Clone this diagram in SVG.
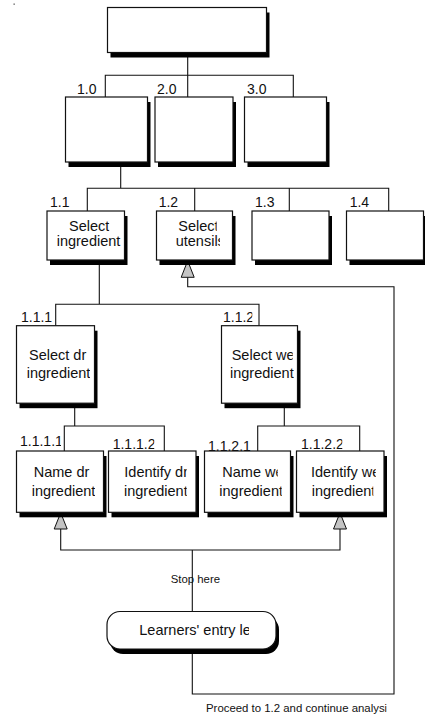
<svg xmlns="http://www.w3.org/2000/svg" width="425" height="715" viewBox="0 0 425 715">
  <style>
    .box { fill: #fff; stroke: #111; stroke-width: 1.2; }
    .shadow { fill: #000; }
    .wire { fill: none; stroke: #111; stroke-width: 1.1; }
    .head { fill: #c4c4c4; stroke: #111; stroke-width: 1; }
    .num { font-family: "Liberation Sans", Arial, sans-serif; font-size: 14px; fill: #111; }
    .txt { font-family: "Liberation Sans", Arial, sans-serif; font-size: 14.5px; fill: #111; }
    .note { font-family: "Liberation Sans", Arial, sans-serif; font-size: 11.4px; fill: #111; }
  </style>
  <defs>
    <!-- per-line clipping of the text frames -->
    <clipPath id="c11a"><rect x="40" y="200" width="69.5" height="60"/></clipPath>
    <clipPath id="c11b"><rect x="40" y="200" width="81.7" height="60"/></clipPath>
    <clipPath id="c12a"><rect x="150" y="200" width="66.7" height="60"/></clipPath>
    <clipPath id="c12b"><rect x="150" y="200" width="70" height="60"/></clipPath>
    <clipPath id="c111a"><rect x="10" y="330" width="77.3" height="70"/></clipPath>
    <clipPath id="c111b"><rect x="10" y="330" width="80" height="70"/></clipPath>
    <clipPath id="c112a"><rect x="220" y="330" width="72.7" height="70"/></clipPath>
    <clipPath id="c112b"><rect x="220" y="330" width="74" height="70"/></clipPath>
    <clipPath id="c1111a"><rect x="10" y="455" width="80.7" height="55"/></clipPath>
    <clipPath id="c1111b"><rect x="10" y="455" width="85" height="55"/></clipPath>
    <clipPath id="c1112a"><rect x="110" y="455" width="76.7" height="55"/></clipPath>
    <clipPath id="c1112b"><rect x="110" y="455" width="76.7" height="55"/></clipPath>
    <clipPath id="c1121a"><rect x="205" y="455" width="72.7" height="55"/></clipPath>
    <clipPath id="c1121b"><rect x="205" y="455" width="76.7" height="55"/></clipPath>
    <clipPath id="c1122a"><rect x="300" y="455" width="75.7" height="55"/></clipPath>
    <clipPath id="c1122b"><rect x="300" y="455" width="73.3" height="55"/></clipPath>
    <clipPath id="cl112"><rect x="215" y="305" width="37.3" height="20"/></clipPath>
    <clipPath id="cl1111"><rect x="15" y="430" width="46" height="20"/></clipPath>
    <clipPath id="cl1112"><rect x="105" y="430" width="49.3" height="20"/></clipPath>
    <clipPath id="cl1121"><rect x="200" y="430" width="50.7" height="22"/></clipPath>
    <clipPath id="cl1122"><rect x="295" y="430" width="47.3" height="20"/></clipPath>
    <clipPath id="centry"><rect x="130" y="615" width="119" height="30"/></clipPath>
    <clipPath id="cproceed"><rect x="200" y="698" width="186.7" height="17"/></clipPath>
  </defs>

  <rect x="13.5" y="3.5" width="1.3" height="1.3" fill="#555"/>

  <!-- connectors -->
  <g id="connectors">
    <path class="wire" d="M187.7 52.7 V97 M105.3 97 V75.3 H293.3 V97"/>
    <path class="wire" d="M120.7 162 V188.3 M87.3 211 V188.3 H388.7 V211 M194.7 188.3 V211 M289.3 188.3 V211"/>
    <path class="wire" d="M99.3 260 V304.3 M55.7 325.7 V304.3 H259 V325.7"/>
    <path class="wire" d="M74.7 403.3 V426 M64.3 451 V426 H164.3 V451"/>
    <path class="wire" d="M284.3 403.3 V426 M257.7 451 V426 H359.7 V451"/>
    <path class="wire" d="M60.7 529 V550 H340 V529 M192.3 550 V611.5"/>
    <path class="wire" d="M192.3 649 V694 H394 V286.7 H187.7 V277.3"/>
    <polygon class="head" points="60.7,512.8 54.2,529 67.2,529"/>
    <polygon class="head" points="340,512.8 333.5,529 346.5,529"/>
    <polygon class="head" points="187.7,260.8 181.2,277.3 194.2,277.3"/>
    <text class="note" x="170.7" y="583">Stop here</text>
    <text class="note" x="206" y="712.3" clip-path="url(#cproceed)">Proceed to 1.2 and continue analysis</text>
  </g>

  <!-- task tree -->
  <g id="n0">
    <rect class="shadow" x="110.5" y="12.5" width="159" height="45"/>
    <rect class="box" x="107.5" y="7.5" width="159" height="45"/>
  </g>

  <g id="n1-0">
    <rect class="shadow" x="68.5" y="102" width="82" height="65"/>
    <rect class="box" x="65.5" y="97" width="82" height="65"/>
    <text class="num" x="77" y="94.3">1.0</text>
  </g>
  <g id="n2-0">
    <rect class="shadow" x="158" y="102" width="78" height="65"/>
    <rect class="box" x="155" y="97" width="78" height="65"/>
    <text class="num" x="157" y="94.3">2.0</text>
  </g>
  <g id="n3-0">
    <rect class="shadow" x="247.5" y="102" width="82" height="65"/>
    <rect class="box" x="244.5" y="97" width="82" height="65"/>
    <text class="num" x="247" y="94.3">3.0</text>
  </g>

  <g id="n1-1">
    <rect class="shadow" x="50" y="216" width="77.5" height="49"/>
    <rect class="box" x="47" y="211" width="77.5" height="49"/>
    <text class="num" x="50" y="207">1.1</text>
    <text class="txt" x="69" y="231" clip-path="url(#c11a)">Select</text>
    <text class="txt" x="56.7" y="245.5" clip-path="url(#c11b)">ingredient</text>
  </g>
  <g id="n1-2">
    <rect class="shadow" x="159.5" y="216" width="76" height="49"/>
    <rect class="box" x="156.5" y="211" width="76" height="49"/>
    <text class="num" x="158.7" y="207">1.2</text>
    <text class="txt" x="178.3" y="231" clip-path="url(#c12a)">Select</text>
    <text class="txt" x="175.7" y="245.5" clip-path="url(#c12b)">utensils</text>
  </g>
  <g id="n1-3">
    <rect class="shadow" x="255" y="216" width="77" height="49"/>
    <rect class="box" x="252" y="211" width="77" height="49"/>
    <text class="num" x="255" y="207">1.3</text>
  </g>
  <g id="n1-4">
    <rect class="shadow" x="349.5" y="216" width="77" height="49"/>
    <rect class="box" x="346.5" y="211" width="77" height="49"/>
    <text class="num" x="349.7" y="207">1.4</text>
  </g>

  <g id="n1-1-1">
    <rect class="shadow" x="19.5" y="330.7" width="78" height="77.5"/>
    <rect class="box" x="16.5" y="325.7" width="78" height="77.5"/>
    <text class="num" x="21" y="322.3">1.1.1</text>
    <text class="txt" x="29" y="360" clip-path="url(#c111a)">Select dr</text>
    <text class="txt" x="26.7" y="378" clip-path="url(#c111b)">ingredient</text>
  </g>
  <g id="n1-1-2">
    <rect class="shadow" x="224.5" y="330.7" width="76" height="77.5"/>
    <rect class="box" x="221.5" y="325.7" width="76" height="77.5"/>
    <text class="num" x="223" y="322.3" clip-path="url(#cl112)">1.1.2</text>
    <text class="txt" x="231.7" y="360" clip-path="url(#c112a)">Select we</text>
    <text class="txt" x="230" y="378" clip-path="url(#c112b)">ingredient</text>
  </g>

  <g id="n1-1-1-1">
    <rect class="shadow" x="19.5" y="456" width="87" height="61.3"/>
    <rect class="box" x="16.5" y="451" width="87" height="61.3"/>
    <text class="num" x="20" y="446" clip-path="url(#cl1111)">1.1.1.1</text>
    <text class="txt" x="33.7" y="476.5" clip-path="url(#c1111a)">Name dr</text>
    <text class="txt" x="31.7" y="496" clip-path="url(#c1111b)">ingredient</text>
  </g>
  <g id="n1-1-1-2">
    <rect class="shadow" x="111.5" y="456" width="87.5" height="61.3"/>
    <rect class="box" x="108.5" y="451" width="87.5" height="61.3"/>
    <text class="num" x="112.7" y="449.3" clip-path="url(#cl1112)">1.1.1.2</text>
    <text class="txt" x="124.3" y="476.5" clip-path="url(#c1112a)">Identify dr</text>
    <text class="txt" x="124" y="496" clip-path="url(#c1112b)">ingredient</text>
  </g>
  <g id="n1-1-2-1">
    <rect class="shadow" x="207.5" y="456" width="86" height="61.3"/>
    <rect class="box" x="204.5" y="451" width="86" height="61.3"/>
    <text class="num" x="208" y="450.7" clip-path="url(#cl1121)">1.1.2.1</text>
    <text class="txt" x="222.3" y="476.5" clip-path="url(#c1121a)">Name we</text>
    <text class="txt" x="219.3" y="496" clip-path="url(#c1121b)">ingredient</text>
  </g>
  <g id="n1-1-2-2">
    <rect class="shadow" x="299.5" y="456" width="87.5" height="61.3"/>
    <rect class="box" x="296.5" y="451" width="87.5" height="61.3"/>
    <text class="num" x="301" y="449.3" clip-path="url(#cl1122)">1.1.2.2</text>
    <text class="txt" x="311" y="476.5" clip-path="url(#c1122a)">Identify we</text>
    <text class="txt" x="311.7" y="496" clip-path="url(#c1122b)">ingredient</text>
  </g>

  <g id="entry">
    <rect class="shadow" x="110" y="616.5" width="169" height="37.5" rx="13"/>
    <rect class="box" x="107" y="611.5" width="169" height="37.5" rx="13"/>
    <text class="txt" x="139.3" y="635" clip-path="url(#centry)">Learners' entry level</text>
  </g>
</svg>
